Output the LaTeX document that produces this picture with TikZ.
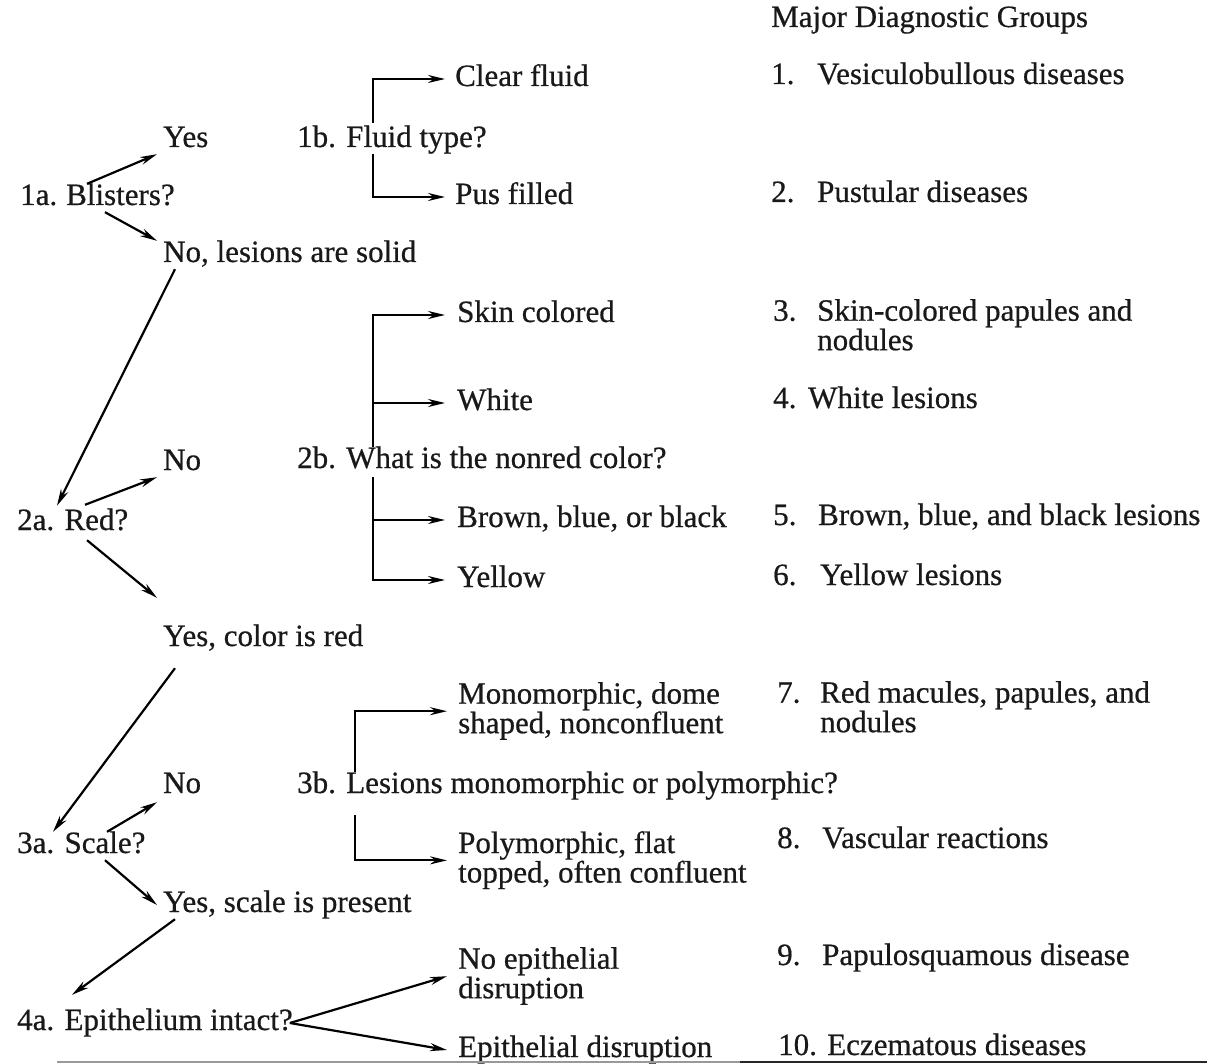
\documentclass[tikz,border=0pt]{standalone}
\usepackage{fontspec}
\setmainfont{Liberation Serif}[FakeBold=0.6]
\usetikzlibrary{arrows.meta,calc}
\tikzset{
  txt/.style={inner sep=0pt, anchor=base west, text height=21pt, text depth=7pt},
  ml/.style={inner sep=0pt, anchor=north west, align=left},
  arr/.style={line width=2.2pt, -{Stealth[length=17pt,width=8pt]}},
}
\newcommand{\topst}{\rule{0pt}{21pt}}
\newcommand{\botst}{\rule[-7pt]{0pt}{7pt}}
\begin{document}
\begin{tikzpicture}[x=1pt,y=-1pt,every node/.style={font=\fontsize{31}{29.5}\selectfont, text=black!90}]
\path[use as bounding box,fill=white] (0,0) rectangle (1207,1064);

% right column
\node[txt] (title) at (771,27) {Major Diagnostic Groups};
\node[txt] (g1) at (771,84) {\makebox[46pt][l]{1.}Vesiculobullous diseases};
\node[txt] (g2) at (771,202) {\makebox[46pt][l]{2.}Pustular diseases};
\node[ml] (g3) at (773,299) {\topst\makebox[44pt][l]{3.}Skin-colored papules and\\\hspace*{44pt}nodules\botst};
\node[txt] (g4) at (773,408) {\makebox[35pt][l]{4.}White lesions};
\node[txt] (g5) at (773,525) {\makebox[45pt][l]{5.}Brown, blue, and black lesions};
\node[txt] (g6) at (773,585) {\makebox[47pt][l]{6.}Yellow lesions};
\node[ml] (g7) at (777,681) {\topst\makebox[43pt][l]{7.}Red macules, papules, and\\\hspace*{43pt}nodules\botst};
\node[txt] (g8) at (777,848) {\makebox[45pt][l]{8.}Vascular reactions};
\node[txt] (g9) at (777,965) {\makebox[45pt][l]{9.}Papulosquamous disease};
\node[txt] (g10) at (778,1055) {10. Eczematous diseases};

% questions and answers
\node[txt] (q1a) at (20,205) {1a.\hspace{9pt}Blisters?};
\node[txt] (yes1) at (163,147) {Yes};
\node[txt] (no1) at (163,262) {No, lesions are solid};
\node[txt] (q1b) at (297,147) {1b. Fluid type?};
\node[txt] (clear) at (455,86) {Clear fluid};
\node[txt] (pus) at (455,204) {Pus filled};

\node[txt] (q2a) at (17,530) {2a. Red?};
\node[txt] (no2) at (163,470) {No};
\node[txt] (yesred) at (163,646) {Yes, color is red};
\node[txt] (q2b) at (297,468) {2b. What is the nonred color?};
\node[txt] (skin) at (457,322) {Skin colored};
\node[txt] (white) at (457,410) {White};
\node[txt] (brown) at (457,527) {Brown, blue, or black};
\node[txt] (yellow) at (457,587) {Yellow};

\node[txt] (q3a) at (17,853) {3a. Scale?};
\node[txt] (no3) at (163,793) {No};
\node[txt] (yesscale) at (163,912) {Yes, scale is present};
\node[txt] (q3b) at (297,793) {3b. Lesions monomorphic or polymorphic?};
\node[ml] (mono) at (458,682) {\topst Monomorphic, dome\\shaped, nonconfluent\botst};
\node[ml] (poly) at (458,831) {\topst Polymorphic, flat\\topped, often confluent\botst};

\node[txt] (q4a) at (17,1030) {4a. Epithelium intact?};
\node[ml] (noepi) at (458,947) {\topst No epithelial\\disruption\botst};
\node[txt] (epidis) at (458,1057) {Epithelial disruption};

% diagonal connectors
\draw[arr] ([xshift=67pt]q1a.north west) -- ([xshift=-6pt]yes1.south west);
\draw[arr] ([xshift=85pt]q1a.south west) -- ([xshift=-6pt]no1.north west);
\draw[arr] ([xshift=12pt]no1.south west) -- ([xshift=40pt,yshift=3pt]q2a.north west);
\draw[arr] ([xshift=68pt,yshift=4pt]q2a.north west) -- ([xshift=-6pt]no2.south west);
\draw[arr] ([xshift=70pt,yshift=-3pt]q2a.south west) -- ([xshift=-6pt,yshift=27pt]yesred.north west);
\draw[arr] ([xshift=12pt,yshift=-15pt]yesred.south west) -- ([xshift=36pt]q3a.north west);
\draw[arr] ([xshift=90pt]q3a.north west) -- ([xshift=-6pt,yshift=-2pt]no3.south west);
\draw[arr] ([xshift=88pt]q3a.south west) -- ([xshift=-6pt]yesscale.west);
\draw[arr] ([xshift=12pt]yesscale.south west) -- ([xshift=55pt,yshift=14pt]q4a.north west);
\draw[arr] ([xshift=-3pt]q4a.east) -- ([xshift=-11pt]noepi.west);
\draw[arr] ([xshift=-3pt]q4a.east) -- ([xshift=-11pt]epidis.west);

% brackets
\coordinate (v1) at ([xshift=76pt,yshift=3pt]q1b.north west);
\coordinate (w1) at ([xshift=76pt]q1b.south west);
\draw[arr] (v1) |- ([xshift=-10pt]clear.west);
\draw[arr] (w1) |- ([xshift=-10pt]pus.west);

\coordinate (v2) at ([xshift=76pt]q2b.north west);
\coordinate (w2) at ([xshift=76pt,yshift=-2pt]q2b.south west);
\draw[arr] (v2) |- ([xshift=-12pt]skin.west);
\draw[arr] (v2 |- white.west) -- ([xshift=-12pt]white.west);
\draw[arr] (w2) |- ([xshift=-12pt]yellow.west);
\draw[arr] (w2 |- brown.west) -- ([xshift=-12pt]brown.west);

\coordinate (v3) at ([xshift=58pt]q3b.north west);
\coordinate (w3) at ([xshift=58pt,yshift=-15pt]q3b.south west);
\draw[arr] (v3) |- ([xshift=-11pt]mono.west);
\draw[arr] (w3) |- ([xshift=-11pt]poly.west);

% bottom rule
\draw[line width=2.4pt,black!40] (57,1062) -- (740,1062);
\draw[line width=2.4pt,black!85] (740,1062) -- (1207,1062);
\end{tikzpicture}
\end{document}
